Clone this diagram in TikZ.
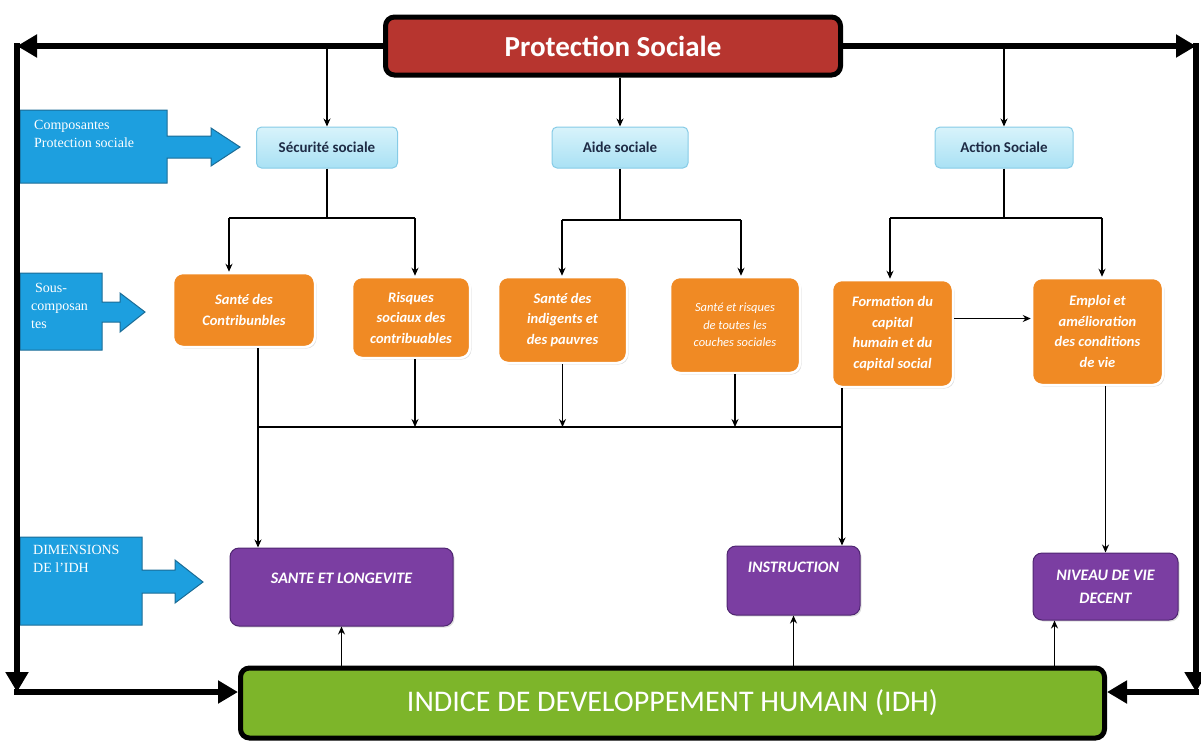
\documentclass[tikz,border=0pt]{standalone}
\usepackage{fontspec}
\setmainfont{Carlito}
\newfontfamily\lblfont{Liberation Serif}
\usepackage{tikz}
\usetikzlibrary{calc, positioning, arrows.meta, shadows}
\definecolor{psred}{HTML}{B7352F}
\definecolor{idhgreen}{HTML}{7DB52A}
\definecolor{lblblue}{HTML}{1D9FDF}
\definecolor{lblborder}{HTML}{1B6C96}
\definecolor{comptop}{HTML}{D8F3FB}
\definecolor{compbot}{HTML}{A9E1F4}
\definecolor{compborder}{HTML}{86CBE6}
\definecolor{comptext}{HTML}{1E2B45}
\definecolor{sousorange}{HTML}{F08A24}
\definecolor{dimpurple}{HTML}{7B3EA2}
\definecolor{dimborder}{HTML}{4F2671}
\tikzstyle{bigbox}=[draw=black, line width=5pt, rounded corners=9pt, text=white, font=\fontsize{29}{33}\selectfont\bfseries]
\tikzstyle{comp}=[draw=compborder, line width=1pt, top color=comptop, bottom color=compbot, rounded corners=5pt, text=comptext, font=\fontsize{15}{17}\selectfont\bfseries]
\tikzstyle{sous}=[draw=white, line width=2.5pt, fill=sousorange, rounded corners=10pt, text=white, align=center, font=\fontsize{14.5}{20.5}\selectfont\bfseries\itshape, drop shadow={opacity=0.25, shadow xshift=1.5pt, shadow yshift=-1.5pt}]
\tikzstyle{dim}=[draw=dimborder, line width=1pt, fill=dimpurple, rounded corners=9pt, text=white, align=center, inner ysep=0pt, font=\fontsize{16}{23}\selectfont\bfseries\itshape, drop shadow={opacity=0.25, shadow xshift=1.5pt, shadow yshift=-1.5pt}]
\tikzstyle{lbl}=[text=white, align=left, inner sep=0pt, font=\lblfont\fontsize{14}{18}\selectfont]
\tikzstyle{bluearrow}=[fill=lblblue, draw=lblborder, line width=1pt]
\tikzstyle{feed}=[line width=6pt, line cap=rect, -{Triangle[length=20pt,width=22pt]}]
\tikzstyle{wire}=[line width=1.3pt]
\tikzstyle{link}=[line width=1.3pt, -{Stealth[length=8pt,width=7pt]}]

\begin{document}
\begin{tikzpicture}[x=1pt, y=-1pt]
\useasboundingbox (0,0) rectangle (1201,740);
% the main boxes
\node[bigbox, fill=psred, minimum width=455pt, minimum height=58pt] (PS) at (613,46) {Protection Sociale};
\node[bigbox, fill=idhgreen, font=\fontsize{30}{34}\selectfont, minimum width=864pt, minimum height=70pt] (IDH) at (672.5,703) {INDICE DE DEVELOPPEMENT HUMAIN (IDH)};
% the components
\node[comp, minimum width=141pt, minimum height=41pt] (SS) at (327,147.5) {Sécurité sociale};
\node[comp, minimum width=136pt, minimum height=41pt] (AS) at (620,147.5) {Aide sociale};
\node[comp, minimum width=138pt, minimum height=41pt] (ACS) at (1004,147.5) {Action Sociale};
% the sub-components
\node[sous, minimum width=142pt, minimum height=74pt] (R1) at (244,310) {Santé des\\Contribunbles};
\node[sous, minimum width=118pt, minimum height=81pt] (R2) at (411,317.5) {Risques\\sociaux des\\contribuables};
\node[sous, minimum width=129pt, minimum height=86pt] (R3) at (562.5,320) {Santé des\\indigents et\\des pauvres};
\node[sous, minimum width=130pt, minimum height=96pt, font=\fontsize{12.5}{17.5}\selectfont\itshape] (R4) at (735,325) {Santé et risques\\de toutes les\\couches sociales};
\node[sous, minimum width=121pt, minimum height=107pt] (R5) at (892.5,333.5) {Formation du\\capital\\humain et du\\capital social};
\node[sous, minimum width=131pt, minimum height=107pt] (R6) at (1097.5,331.5) {Emploi et\\amélioration\\des conditions\\de vie};
% the dimensions
\node[dim, minimum width=223pt, text height=35pt, text depth=43pt] (D1) at (341.5,587) {SANTE ET LONGEVITE};
\node[dim, minimum width=133pt, text height=26pt, text depth=43pt] (D2) at (793.5,580.5) {INSTRUCTION};
\node[dim, minimum width=145pt, minimum height=67pt] (D3) at (1105.5,586.5) {NIVEAU DE VIE\\DECENT};
% the blue labels
\filldraw[bluearrow] (20,110) -- (167,110) -- (167,136) -- (211,136) -- (211,128) -- (240,147) -- (211,166) -- (211,158) -- (167,158) -- (167,183) -- (20,183) -- cycle;
\filldraw[bluearrow] (20,273) -- (102,273) -- (102,302) -- (120,302) -- (120,293) -- (145,312) -- (120,332) -- (120,322) -- (102,322) -- (102,350) -- (20,350) -- cycle;
\filldraw[bluearrow] (20,537) -- (142,537) -- (142,570) -- (175,570) -- (175,560) -- (203,582) -- (175,603) -- (175,593) -- (142,593) -- (142,625) -- (20,625) -- cycle;
\node[lbl, anchor=north west] (L1) at (34,120) {Composantes\\Protection sociale};
\node[lbl, anchor=north west] (L2) at (31,283) {\hspace{4pt}Sous-\\composan\\tes};
\node[lbl, anchor=north west] (L3) at (33,545) {DIMENSIONS\\DE l’IDH};
% the feedback lines
\coordinate (tl) at (17,46);
\coordinate (bl) at (17,692);
\coordinate (tr) at (1196,46);
\coordinate (br) at (1196,692);
\draw[feed] (PS.west) -- (tl);
\draw[feed] (tl) -- (bl);
\draw[feed] (bl) -- (bl -| IDH.west);
\draw[feed] (PS.east) -- (tr);
\draw[feed] (tr) -- (br);
\draw[feed] (br) -- (br -| IDH.east);
% from protection sociale to the components
\draw[link] (SS |- tl) -- (SS.north);
\draw[link] (AS |- PS.south) -- (AS.north);
\draw[link] (ACS |- tr) -- (ACS.north);
% the branches
\coordinate (a1) at (229,218);
\coordinate (a2) at (415,218);
\coordinate (a3) at (562,220);
\coordinate (a4) at (741,220);
\coordinate (a5) at (890,218);
\coordinate (a6) at (1102,218);
\draw[wire] (SS.south) -- (SS.south |- a1);
\draw[wire] (a1) -- (a2);
\draw[link] (a1) -- (a1 |- R1.north);
\draw[link] (a2) -- (a2 |- R2.north);
\draw[wire] (AS.south) -- (AS.south |- a3);
\draw[wire] (a3) -- (a4);
\draw[link] (a3) -- (a3 |- R3.north);
\draw[link] (a4) -- (a4 |- R4.north);
\draw[wire] (ACS.south) -- (ACS.south |- a5);
\draw[wire] (a5) -- (a6);
\draw[link] (a5) -- (a5 |- R5.north);
\draw[link] (a6) -- (a6 |- R6.north);
\coordinate (f) at ([yshift=15pt]R5.east);
\draw[link] (f) -- (f -| R6.west);
% the bus to the dimensions
\coordinate (b1) at (258,427);
\coordinate (b2) at (842,427);
\draw[wire] (b1) -- (b2);
\draw[link] (b1 |- R1.south) -- (b1 |- D1.north);
\draw[link] (a2 |- R2.south) -- (a2 |- b1);
\draw[link] (R3.south) -- (R3.south |- b1);
\draw[link] (R4.south) -- (R4.south |- b1);
\draw[link] (b2 |- R5.south) -- (b2 |- D2.north);
\draw[link] (D3.north |- R6.south) -- (D3.north);
% from the IDH up to the dimensions
\coordinate (u3) at ($(D3.south west)+(22,0)$);
\draw[link] (D1 |- IDH.north) -- (D1.south);
\draw[link] (D2 |- IDH.north) -- (D2.south);
\draw[link] (u3 |- IDH.north) -- (u3);
\end{tikzpicture}
\end{document}
